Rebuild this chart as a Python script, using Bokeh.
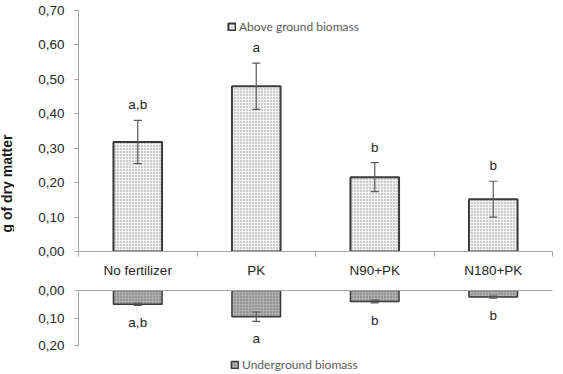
import numpy as np
from bokeh.plotting import figure
from bokeh.layouts import column, row
from bokeh.models import (Range1d, FixedTicker, CustomJSTickFormatter, Whisker, TeeHead,
                          ColumnDataSource, Legend, LegendItem)
from bokeh.core.properties import value
from bokeh.embed import file_html
from bokeh.resources import INLINE

# Treatments and measured biomass (g of dry matter)
categories = ["No fertilizer", "PK", "N90+PK", "N180+PK"]
above_mean = [0.318, 0.480, 0.216, 0.152]
above_err = [0.063, 0.067, 0.042, 0.052]
above_letters = ["a,b", "a", "b", "b"]
under_mean = [0.050, 0.095, 0.040, 0.024]
under_err = [0.004, 0.017, 0.005, 0.004]
under_letters = ["a,b", "a", "b", "b"]
above_ticks = [0.0, 0.1, 0.2, 0.3, 0.4, 0.5, 0.6, 0.7]
under_ticks = [0.0, 0.1, 0.2]

xs = np.arange(len(categories)) + 0.5
comma_fmt = CustomJSTickFormatter(code="return tick.toFixed(2).replace('.', ',');")
AXIS_GRAY = "#a6a6a6"
TEXT = "#262626"
FONT = "Liberation Sans"
LEG_FONT = "Lato"
STRIP_W = 14          # narrow strip holding the shared y-axis title
PLOT_W = 563 - STRIP_W

src_top = ColumnDataSource(dict(
    x=xs, top=above_mean,
    upper=np.array(above_mean) + np.array(above_err),
    lower=np.array(above_mean) - np.array(above_err),
    letter=above_letters))
src_bot = ColumnDataSource(dict(
    x=xs, top=under_mean,
    upper=np.array(under_mean) + np.array(under_err),
    lower=np.array(under_mean) - np.array(under_err),
    letter=under_letters))

x_range = Range1d(0, len(categories))


def style_y(ax, ticks):
    ax.ticker = FixedTicker(ticks=ticks)
    ax.formatter = comma_fmt
    ax.axis_line_color = AXIS_GRAY
    ax.major_tick_line_color = AXIS_GRAY
    ax.major_tick_out = 4
    ax.major_tick_in = 0
    ax.minor_tick_line_color = None
    ax.major_label_text_font = FONT
    ax.major_label_text_font_size = "13.5px"
    ax.major_label_text_color = TEXT
    ax.major_label_standoff = 10


def error_bars(src):
    return Whisker(base="x", upper="upper", lower="lower", source=src,
                   level="annotation", line_color="#595959", line_width=1.2,
                   upper_head=TeeHead(size=8, line_color="#595959", line_width=1.2),
                   lower_head=TeeHead(size=8, line_color="#595959", line_width=1.2))


def legend(label, renderer, loc):
    return Legend(items=[LegendItem(label=label, renderers=[renderer])],
                  location=loc, padding=0, margin=0, spacing=0,
                  glyph_width=9, glyph_height=9, label_standoff=3,
                  label_text_font=LEG_FONT, label_text_font_size="12px",
                  label_text_color="#595959", border_line_color=None,
                  background_fill_alpha=0)


# ---- y-axis title strip ----
strip = figure(width=STRIP_W, height=374, x_range=Range1d(0, STRIP_W),
               y_range=Range1d(0, 374), output_backend="svg", toolbar_location=None,
               min_border=0)
strip.axis.visible = False
strip.grid.grid_line_color = None
strip.outline_line_color = None
strip.text(x=[6], y=[191], text=["g of dry matter"], angle=np.pi / 2,
           text_align="center", text_baseline="middle", text_font=value(FONT),
           text_font_size="14px", text_font_style="bold", text_color="#1a1a1a")

# ---- above ground panel ----
top = figure(width=PLOT_W, height=280, x_range=x_range, y_range=Range1d(0, 0.70),
             output_backend="svg", toolbar_location=None,
             min_border_left=78 - STRIP_W, min_border_right=11, min_border_top=10,
             min_border_bottom=0)
top.outline_line_color = None
top.grid.grid_line_color = None
style_y(top.yaxis[0], above_ticks)

xa = top.xaxis[0]
xa.ticker = FixedTicker(ticks=list(xs), minor_ticks=list(range(len(categories) + 1)))
xa.major_label_overrides = {float(x): c for x, c in zip(xs, categories)}
xa.axis_line_color = AXIS_GRAY
xa.major_tick_line_color = None
xa.minor_tick_line_color = AXIS_GRAY
xa.minor_tick_out = 5
xa.minor_tick_in = 0
xa.major_label_text_font = FONT
xa.major_label_text_font_size = "13.5px"
xa.major_label_text_color = TEXT
xa.major_label_standoff = 5

bars_top = top.vbar(x="x", top="top", bottom=0, width=0.41, source=src_top,
                    fill_color="#f4f4f4", line_color="#3a3a3a", line_width=2,
                    hatch_pattern="dot", hatch_color="#8c8c8c", hatch_scale=3,
                    hatch_weight=1)
top.add_layout(error_bars(src_top))
top.text(x="x", y="upper", text="letter", source=src_top, y_offset=-8,
         text_align="center", text_baseline="bottom", text_font=value(FONT),
         text_font_size="13.5px", text_color=TEXT)
top.add_layout(legend("Above ground biomass", bars_top, (149, 217)))

# ---- underground panel (downward axis, frame runs to the page bottom) ----
bot = figure(width=PLOT_W, height=94, x_range=x_range, y_range=Range1d(0.305, 0.0),
             output_backend="svg", toolbar_location=None, x_axis_location="above",
             min_border_left=78 - STRIP_W, min_border_right=11, min_border_top=10,
             min_border_bottom=0)
bot.outline_line_color = None
bot.grid.grid_line_color = None
style_y(bot.yaxis[0], under_ticks)
bot.yaxis[0].bounds = (0, 0.20)
xb = bot.xaxis[0]
xb.ticker = FixedTicker(ticks=[])
xb.axis_line_color = AXIS_GRAY
xb.major_tick_line_color = None
xb.minor_tick_line_color = None
xb.major_label_text_font_size = "0px"
xb.major_label_standoff = 0

bars_bot = bot.vbar(x="x", top="top", bottom=0, width=0.41, source=src_bot,
                    fill_color="#b0b0b0", line_color="#3a3a3a", line_width=1.5,
                    hatch_pattern="dot", hatch_color="#666666", hatch_scale=3,
                    hatch_weight=1)
bot.add_layout(error_bars(src_bot))
bot.text(x="x", y="upper", text="letter", source=src_bot, y_offset=10,
         text_align="center", text_baseline="top", text_font=value(FONT),
         text_font_size="13.5px", text_color=TEXT)
bot.add_layout(legend("Underground biomass", bars_bot, (152, 2)))

layout = row(strip, column(top, bot, spacing=0), spacing=0)
open("out.html", "w").write(file_html(layout, INLINE))
